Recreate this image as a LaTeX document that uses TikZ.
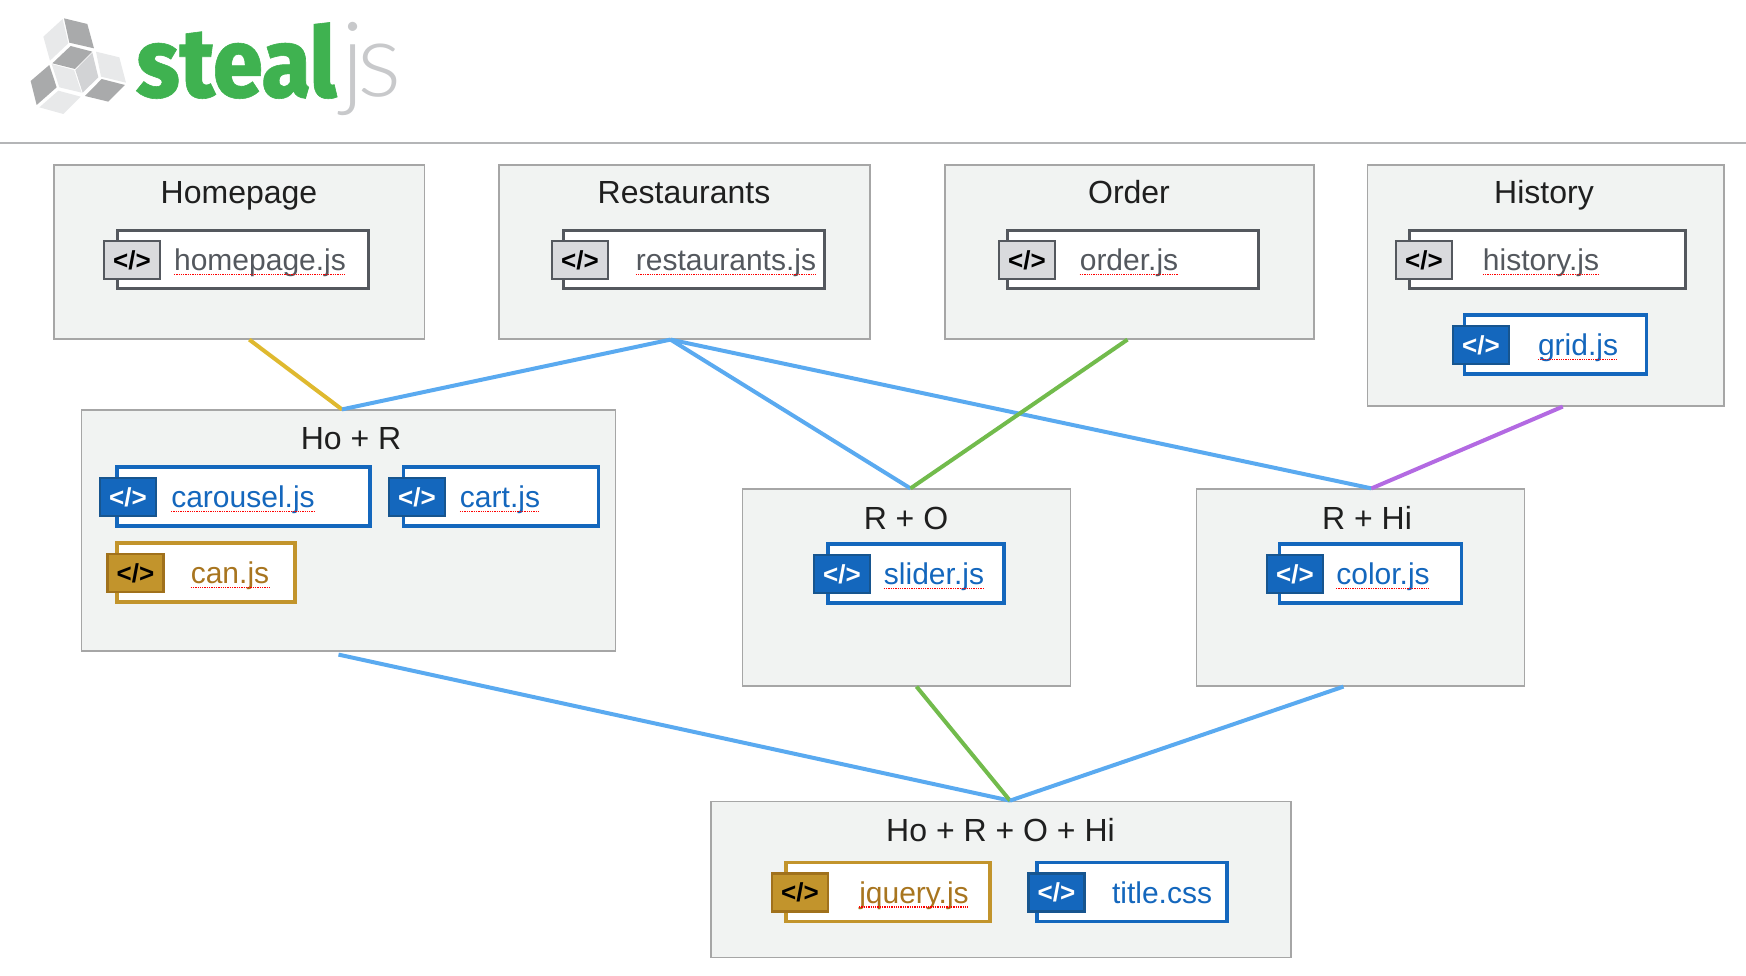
\documentclass[tikz,border=0pt]{standalone}
\usepackage{fontspec}
\setmainfont{Liberation Sans}
\newfontfamily\logofont{Fira Sans ExtraBold}[FakeStretch=0.91,FakeBold=0.6]
\newfontfamily\thinfont{Lato Light}

\definecolor{panelfill}{HTML}{F1F3F2}
\definecolor{panelline}{HTML}{A6A6A6}
\definecolor{graycol}{HTML}{54585E}
\definecolor{graytag}{HTML}{D9DADD}
\definecolor{bluecol}{HTML}{1467BD}
\definecolor{blueedge}{HTML}{17558F}
\definecolor{goldcol}{HTML}{C2942C}
\definecolor{goldedge}{HTML}{A0711C}
\definecolor{goldtext}{HTML}{A8751F}
\definecolor{linkyellow}{HTML}{DFB92F}
\definecolor{linkblue}{HTML}{5AAAF0}
\definecolor{linkgreen}{HTML}{72BB4C}
\definecolor{linkpurple}{HTML}{B36AE2}
\definecolor{logogreen}{HTML}{3FB250}
\definecolor{logothin}{HTML}{C8C9CB}
\definecolor{cubelight}{HTML}{E8E9EA}
\definecolor{cubemid}{HTML}{D2D3D5}
\definecolor{cubedark}{HTML}{A9AAAB}

\tikzset{
  panel/.style={draw=panelline, fill=panelfill, line width=1.2pt, inner sep=0pt},
  paneltitle/.style={anchor=base, inner sep=0pt, text=black!88, font=\fontsize{32}{36}\selectfont},
  filebox/.style={fill=white, line width=2.6pt, inner sep=0pt, minimum height=58pt},
  tagbox/.style={line width=2.6pt, inner sep=0pt, minimum width=56pt, minimum height=38pt,
    font=\fontsize{26}{30}\selectfont\bfseries},
  filetext/.style={anchor=base, inner sep=0pt, font=\fontsize{30}{34}\selectfont},
  filegray/.style={filebox, draw=graycol},
  fileblue/.style={filebox, draw=bluecol, line width=3.05pt, minimum height=59pt},
  filegold/.style={filebox, draw=goldcol, line width=3.05pt, minimum height=59pt},
  taggray/.style={tagbox, draw=graycol, fill=graytag, text=black},
  tagblue/.style={tagbox, draw=blueedge, fill=bluecol, text=white},
  taggold/.style={tagbox, draw=goldedge, fill=goldcol, text=black},
  textgray/.style={filetext, text=graycol},
  textblue/.style={filetext, text=bluecol},
  textgold/.style={filetext, text=goldtext},
  spell/.style={red, line width=1.3pt, densely dotted},
  link/.style={line width=4pt},
}

% name, centre x, centre y, width, colour, tag x, text x, label
\newcommand{\filenode}[8]{
  \node[file#5, minimum width=#4pt] (#1) at (#2,#3) {};
  \node[tag#5] (#1tag) at (#6,#3+0.5) {</>};
  \node[text#5] (#1txt) at (#7,#3+11) {#8};
}

\begin{document}
\begin{tikzpicture}[x=1pt, y=-1pt]
  \useasboundingbox (0,0) rectangle (1746,976);

  % logo
  \begin{scope}[scale=1/3]
    \fill[cubelight] (188,57)--(130,110)--(150,182)--(205,130)--cycle;
    \fill[cubedark] (192,55)--(262,72)--(282,145)--(208,128)--cycle;
    \fill[cubedark] (212,138)--(277,155)--(225,207)--(157,190)--cycle;
    \fill[cubelight] (155,192)--(222,210)--(245,278)--(178,262)--cycle;
    \fill[cubemid] (277,158)--(295,232)--(248,278)--(226,210)--cycle;
    \fill[cubelight] (288,155)--(358,172)--(378,248)--(303,230)--cycle;
    \fill[cubedark] (305,237)--(375,255)--(325,305)--(255,288)--cycle;
    \fill[cubedark] (148,195)--(170,262)--(110,315)--(92,243)--cycle;
    \fill[cubelight] (175,272)--(242,290)--(190,342)--(118,322)--cycle;
  \end{scope}
  \node[anchor=base west, inner sep=0pt, text=logogreen, font=\logofont\fontsize{98}{110}\selectfont] (logosteal) at (136,97) {steal};
  \node[anchor=base west, inner sep=0pt, text=logothin, font=\thinfont\fontsize{104}{110}\selectfont] (logojs) at (341,97) {j\kern-7pt s};
  \draw[logothin!90!black, line width=2.5pt] (0,143)--(1746,143);

  % pages
  \node[panel, minimum width=370.5pt, minimum height=174pt] (home) at (239.25,252) {};
  \node[paneltitle] (hometitle) at (239,204) {Homepage};
  \node[panel, minimum width=371pt, minimum height=174pt] (rest) at (684.5,252) {};
  \node[paneltitle] (resttitle) at (684,204) {Restaurants};
  \node[panel, minimum width=369pt, minimum height=174pt] (order) at (1129.5,252) {};
  \node[paneltitle] (ordertitle) at (1129,204) {Order};
  \node[panel, minimum width=356.5pt, minimum height=241pt] (hist) at (1545.75,285.5) {};
  \node[paneltitle] (histtitle) at (1544,204) {History};

  % shared bundles
  \node[panel, minimum width=534pt, minimum height=241pt] (hor) at (348.5,530.5) {};
  \node[paneltitle] (hortitle) at (351,449) {Ho + R};
  \node[panel, minimum width=327.5pt, minimum height=197pt] (ro) at (906.5,587.5) {};
  \node[paneltitle] (rotitle) at (906,529) {R + O};
  \node[panel, minimum width=327.5pt, minimum height=197pt] (rhi) at (1360.5,587.5) {};
  \node[paneltitle] (rhititle) at (1367,529) {R + Hi};
  \node[panel, minimum width=580pt, minimum height=156.5pt] (all) at (1001,879.5) {};
  \node[paneltitle] (alltitle) at (1000.5,841) {Ho + R + O + Hi};

  \filenode{homepagejs}{243}{259.5}{251}{gray}{132}{260}{homepage.js}
  \filenode{restaurantsjs}{694}{259.5}{261}{gray}{580}{726}{restaurants.js}
  \filenode{orderjs}{1133}{259.5}{251}{gray}{1027}{1129}{order.js}
  \filenode{historyjs}{1547.5}{259.5}{276}{gray}{1424}{1541}{history.js}
  \filenode{gridjs}{1555.5}{344.5}{182}{blue}{1481}{1578}{grid.js}
  \filenode{carouseljs}{243.5}{496.5}{253}{blue}{128}{243}{carousel.js}
  \filenode{cartjs}{501}{496.5}{195}{blue}{417}{500}{cart.js}
  \filenode{canjs}{206}{572.5}{178}{gold}{135.5}{230}{can.js}
  \filenode{sliderjs}{916}{573.5}{176}{blue}{842}{934}{slider.js}
  \filenode{colorjs}{1370.5}{573.5}{182}{blue}{1295}{1383}{color.js}
  \filenode{jqueryjs}{888}{892}{204}{gold}{800}{914}{jquery.js}
  \filenode{titlecss}{1132}{892}{190}{blue}{1056.5}{1162}{title.css}

  \foreach \n in {homepagejs,restaurantsjs,orderjs,historyjs,gridjs,carouseljs,cartjs,canjs,sliderjs,colorjs,jqueryjs}
    \draw[spell] ([yshift=-4pt]\n txt.base west) -- ([yshift=-4pt]\n txt.base east);

  \draw[link, linkyellow] ([xshift=10pt]home.south) -- ([xshift=-6.5pt]hor.north);
  \draw[link, linkblue] ([xshift=-14pt]rest.south) -- ([xshift=-6.5pt]hor.north);
  \draw[link, linkblue] ([xshift=-14pt]rest.south) -- ([xshift=4pt]ro.north);
  \draw[link, linkblue] ([xshift=-14pt]rest.south) -- ([xshift=11pt]rhi.north);
  \draw[link, linkgreen] ([xshift=-2pt]order.south) -- ([xshift=4pt]ro.north);
  \draw[link, linkpurple] ([xshift=17pt]hist.south) -- ([xshift=11pt]rhi.north);
  \draw[link, linkblue] ([xshift=-10pt,yshift=-3pt]hor.south) -- ([xshift=9pt]all.north);
  \draw[link, linkgreen] ([xshift=10pt]ro.south) -- ([xshift=9pt]all.north);
  \draw[link, linkblue] ([xshift=-17pt]rhi.south) -- ([xshift=9pt]all.north);
\end{tikzpicture}
\end{document}
